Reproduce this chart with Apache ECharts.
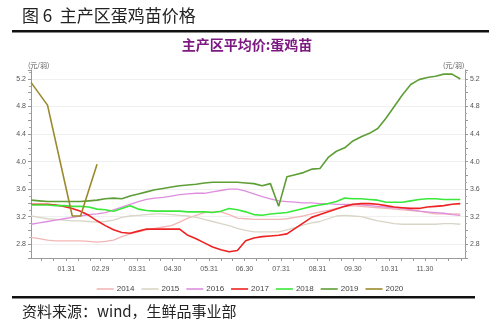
<!DOCTYPE html>
<html><head><meta charset="utf-8">
<script src="https://cdn.jsdelivr.net/npm/echarts@6/dist/echarts.min.js"></script>
<style>html,body{margin:0;padding:0;background:#fff}#c{width:500px;height:329px}</style>
</head><body><div id="c"></div>
<script>
// day-of-year index (0 = 01.01) of weekly observations
const weekDays = [0,7,14,21,28,35,42,49,56,63,70,77,84,91,98,105,112,119,126,133,140,147,154,161,168,175,182,189,196,203,210,217,224,231,238,245,252,259,266,273,280,287,294,301,308,315,322,329,336,343,350,357,364];
const v2014 = [2.90,2.88,2.86,2.85,2.85,2.85,2.85,2.84,2.83,2.84,2.86,2.91,2.95,2.98,3.01,3.03,3.05,3.07,3.12,3.18,3.22,3.26,3.27,3.27,3.23,3.18,3.17,3.16,3.16,3.16,3.16,3.17,3.19,3.21,3.24,3.27,3.29,3.32,3.35,3.36,3.35,3.34,3.33,3.32,3.31,3.30,3.29,3.28,3.26,3.24,3.24,3.24,3.24];
const v2015 = [3.21,3.19,3.17,3.16,3.15,3.14,3.14,3.13,3.12,3.13,3.15,3.19,3.21,3.22,3.23,3.24,3.24,3.23,3.22,3.21,3.19,3.16,3.13,3.10,3.07,3.03,3.00,2.98,2.98,2.98,2.98,3.01,3.04,3.08,3.11,3.13,3.17,3.21,3.22,3.21,3.20,3.17,3.14,3.12,3.10,3.09,3.09,3.09,3.09,3.09,3.10,3.10,3.09];
const v2016 = [3.09,3.11,3.13,3.15,3.17,3.19,3.21,3.23,3.24,3.26,3.30,3.34,3.38,3.42,3.45,3.47,3.48,3.50,3.52,3.53,3.54,3.54,3.56,3.58,3.60,3.60,3.57,3.53,3.49,3.46,3.43,3.42,3.41,3.40,3.40,3.39,3.39,3.38,3.38,3.38,3.37,3.36,3.35,3.34,3.33,3.32,3.30,3.28,3.27,3.26,3.25,3.23,3.22];
const v2017 = [3.38,3.38,3.38,3.37,3.35,3.32,3.28,3.22,3.14,3.07,3.01,2.97,2.96,2.99,3.02,3.02,3.02,3.02,3.02,2.93,2.88,2.82,2.76,2.72,2.69,2.71,2.85,2.89,2.91,2.92,2.93,2.95,3.03,3.11,3.19,3.23,3.27,3.31,3.35,3.38,3.39,3.39,3.38,3.36,3.34,3.33,3.32,3.32,3.34,3.35,3.36,3.38,3.39];
const v2018 = [3.37,3.37,3.37,3.36,3.36,3.35,3.35,3.34,3.31,3.30,3.28,3.32,3.36,3.31,3.29,3.28,3.28,3.28,3.28,3.27,3.27,3.27,3.26,3.28,3.32,3.30,3.27,3.23,3.22,3.24,3.25,3.26,3.29,3.32,3.35,3.37,3.39,3.42,3.47,3.46,3.46,3.45,3.44,3.41,3.41,3.41,3.43,3.45,3.46,3.46,3.45,3.45,3.45];
const v2019 = [3.44,3.43,3.42,3.42,3.42,3.42,3.42,3.43,3.44,3.46,3.47,3.46,3.50,3.53,3.56,3.59,3.61,3.63,3.65,3.66,3.67,3.69,3.70,3.70,3.70,3.70,3.69,3.68,3.65,3.68,3.35,3.78,3.81,3.84,3.89,3.90,4.06,4.15,4.20,4.30,4.36,4.41,4.48,4.63,4.80,4.97,5.12,5.19,5.22,5.24,5.27,5.27,5.20];
const days2020 = [0,14,35,42,56];
const v2020 = [5.15,4.82,3.21,3.21,3.96];

const years = ['2014','2015','2016','2017','2018','2019','2020'];
const colors = ['#f3b6b6','#d9d5c6','#de8ede','#ee2222','#3ae83a','#5e9e36','#9a8a2c'];
const monthStart = [0,31,60,91,121,152,182,213,244,274,305,335];
const monthEnd = [30,59,90,120,151,181,212,243,273,304,334];
const monthLabels = ['01.31','02.29','03.31','04.30','05.31','06.30','07.31','08.31','09.30','10.31','11.30'];
const yLabels = [2.8,3.2,3.6,4.0,4.4,4.8,5.2];

const tickDays = [];
monthStart.forEach((s,i)=>{ tickDays.push(s+9, s+19); if (i<11) tickDays.push(monthEnd[i]); });
tickDays.push(365);

function pairs(xs, ys){ return xs.map((x,i)=>[x, ys[i]]); }
const seriesVals = [v2014,v2015,v2016,v2017,v2018,v2019];
const series = seriesVals.map((vals,i)=>({
  name: years[i], type:'line', yAxisIndex:0, showSymbol:false, symbol:'none',
  data: pairs(weekDays, vals),
  lineStyle:{width: i<3 ? 1.3 : 1.6, color: colors[i]}, itemStyle:{color: colors[i]}
}));
series.push({name:'2020', type:'line', yAxisIndex:0, showSymbol:false, symbol:'none',
  data: pairs(days2020, v2020), lineStyle:{width:1.6, color: colors[6]}, itemStyle:{color: colors[6]}});

const yBase = {type:'value', min:2.6, max:5.33, interval:0.2};
const chart = echarts.init(document.getElementById('c'), null, {renderer:'canvas'});
chart.setOption({
  animation:false,
  color: colors,
  grid:{left:31, right:35, top:70, bottom:71},
  xAxis:{type:'value', min:0, max:368,
    axisLine:{lineStyle:{color:'#999'}}, splitLine:{show:false},
    axisTick:{customValues: tickDays, length:3, lineStyle:{color:'#999'}},
    axisLabel:{customValues: monthEnd, formatter: v => monthLabels[monthEnd.indexOf(v)], fontSize:7, color:'#555', margin:8, fontFamily:'Liberation Sans'}},
  yAxis:[
    Object.assign({}, yBase, {position:'left',
      axisLine:{show:true, lineStyle:{color:'#999'}},
      axisTick:{show:true, length:3, lineStyle:{color:'#999'}},
      minorTick:{show:true, splitNumber:2, length:2, lineStyle:{color:'#aaa'}},
      axisLabel:{customValues: yLabels, formatter: v => v.toFixed(1), fontSize:7, color:'#555', margin:5, fontFamily:'Liberation Sans'},
      splitLine:{show:false}}),
    Object.assign({}, yBase, {position:'right',
      axisLine:{show:true, lineStyle:{color:'#999'}},
      axisTick:{show:true, length:3, lineStyle:{color:'#999'}},
      minorTick:{show:true, splitNumber:2, length:2, lineStyle:{color:'#aaa'}},
      axisLabel:{customValues: yLabels, formatter: v => v.toFixed(1), fontSize:7, color:'#555', margin:5, fontFamily:'Liberation Sans'},
      splitLine:{show:false}}),
    Object.assign({}, yBase, {position:'left', axisLine:{show:false},
      axisTick:{show:false, customValues: yLabels}, axisLabel:{show:false},
      splitLine:{show:true, lineStyle:{color:'#f0f0f0', width:1}}})
  ],
  legend:{data: years, top:280, left:'center', icon:'rect', itemWidth:17, itemHeight:1.6, itemGap:7,
    textStyle:{fontSize:8, color:'#444', fontFamily:'Liberation Sans', padding:[0,0,0,-2]}},
  series: series,
  graphic:[
    {type:'text', left:22, top:7, style:{text:'图 6  主产区蛋鸡苗价格', font:'17px "Noto Sans CJK SC"', fill:'#222'}},
    {type:'rect', shape:{x:12, y:30, width:477, height:2.5}, style:{fill:'#111'}},
    {type:'text', x:247, y:45, style:{text:'主产区平均价:蛋鸡苗', font:'bold 14px "Noto Sans CJK SC"', fill:'#7d1a82', align:'center', verticalAlign:'middle'}},
    {type:'text', x:28, y:62, style:{text:'(元/羽)', font:'7px "Noto Sans CJK SC"', fill:'#555'}},
    {type:'text', x:443, y:62, style:{text:'(元/羽)', font:'7px "Noto Sans CJK SC"', fill:'#555'}},
    {type:'rect', shape:{x:12, y:296, width:463, height:2.5}, style:{fill:'#111'}},
    {type:'text', left:22, top:304, style:{text:'资料来源：wind，生鲜品事业部', font:'15px "Noto Sans CJK SC"', fill:'#222'}}
  ]
});
</script></body></html>
